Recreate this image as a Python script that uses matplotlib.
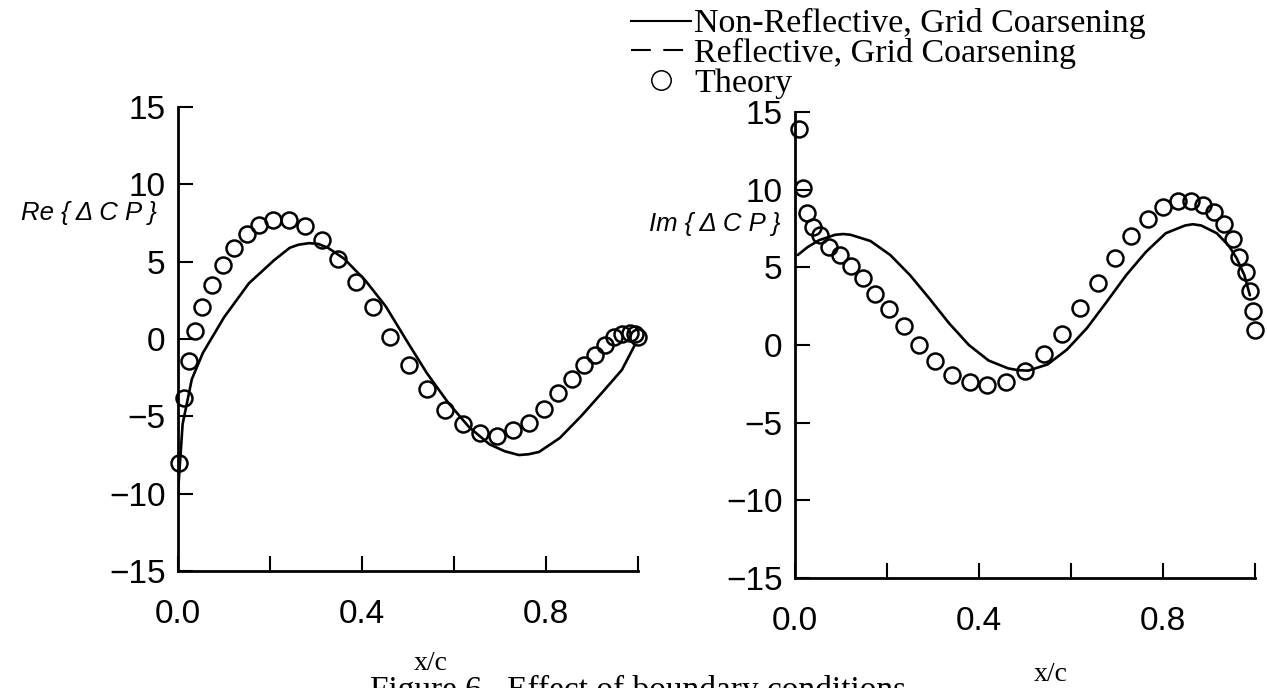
#!/usr/bin/env python3
"""
Re/Im of delta Cp along the chord, computed vs theory
"""

import matplotlib
matplotlib.use('Agg')
import matplotlib.pyplot as plt
from matplotlib.lines import Line2D

OUT_PATH = 'out.png'
SERIF = 'Liberation Serif'
SANS = 'Liberation Sans'

# real part, non-reflective grid coarsening (solid line)
re_line_x = [0.0, 0.010, 0.030, 0.054, 0.100, 0.154, 0.209, 0.243, 0.262, 0.285,
             0.305, 0.326, 0.361, 0.407, 0.452, 0.497, 0.541, 0.587, 0.633, 0.677,
             0.710, 0.741, 0.762, 0.785, 0.830, 0.876, 0.921, 0.965, 0.993]
re_line_y = [-9.9, -5.5, -2.6, -0.9, 1.4, 3.6, 5.1, 5.9, 6.1, 6.2,
             6.15, 5.9, 5.2, 3.8, 2.1, -0.1, -2.2, -4.1, -5.7, -6.8,
             -7.25, -7.5, -7.45, -7.3, -6.4, -5.0, -3.5, -2.0, -0.4]

# real part, theory (circles)
re_theory_x = [0.002, 0.013, 0.024, 0.037, 0.053, 0.074, 0.098, 0.121, 0.150, 0.176,
               0.207, 0.241, 0.276, 0.312, 0.348, 0.386, 0.424, 0.461, 0.502, 0.541,
               0.580, 0.619, 0.657, 0.693, 0.728, 0.763, 0.795, 0.826, 0.856, 0.883,
               0.906, 0.928, 0.948, 0.965, 0.983, 0.993, 1.000]
re_theory_y = [-8.0, -3.8, -1.4, 0.5, 2.1, 3.5, 4.8, 5.9, 6.8, 7.4,
               7.7, 7.7, 7.3, 6.4, 5.2, 3.7, 2.1, 0.1, -1.7, -3.2,
               -4.6, -5.5, -6.1, -6.3, -5.9, -5.4, -4.5, -3.5, -2.6, -1.7,
               -1.0, -0.4, 0.1, 0.3, 0.4, 0.3, 0.1]

# imaginary part, non-reflective grid coarsening (solid line)
im_line_x = [0.006, 0.027, 0.052, 0.087, 0.105, 0.121, 0.164, 0.207, 0.250, 0.292,
             0.335, 0.378, 0.421, 0.463, 0.485, 0.507, 0.549, 0.591, 0.635, 0.678,
             0.720, 0.763, 0.806, 0.848, 0.865, 0.883, 0.917, 0.943, 0.960, 0.977,
             0.989]
im_line_y = [5.8, 6.3, 6.75, 7.1, 7.15, 7.1, 6.7, 5.8, 4.5, 3.0,
             1.4, 0.0, -1.0, -1.5, -1.62, -1.65, -1.25, -0.3, 1.1, 2.8,
             4.5, 6.0, 7.2, 7.7, 7.78, 7.7, 7.2, 6.4, 5.6, 4.5,
             3.2]

# imaginary part, theory (circles)
im_theory_x = [0.008, 0.017, 0.027, 0.038, 0.054, 0.074, 0.097, 0.121, 0.147, 0.174,
               0.204, 0.237, 0.270, 0.304, 0.341, 0.380, 0.417, 0.459, 0.500, 0.541,
               0.581, 0.620, 0.658, 0.695, 0.731, 0.767, 0.800, 0.832, 0.861, 0.887,
               0.911, 0.933, 0.952, 0.965, 0.980, 0.989, 0.996, 0.999]
im_theory_y = [13.9, 10.1, 8.5, 7.6, 7.1, 6.3, 5.8, 5.1, 4.3, 3.3,
               2.3, 1.2, 0.0, -1.0, -1.9, -2.4, -2.6, -2.4, -1.7, -0.6,
               0.7, 2.4, 4.0, 5.6, 7.0, 8.1, 8.9, 9.3, 9.3, 9.0,
               8.6, 7.8, 6.8, 5.7, 4.7, 3.5, 2.2, 1.0]

x_ticks = [0.0, 0.2, 0.4, 0.6, 0.8, 1.0]
x_tick_labels = ['0.0', '', '0.4', '', '0.8', '']
y_ticks = [-15, -10, -5, 0, 5, 10, 15]

legend_labels = ['Non-Reflective, Grid Coarsening',
                 'Reflective, Grid Coarsening',
                 'Theory']


def main():
    fig = plt.figure(figsize=(12.67, 6.88), dpi=100)

    ax_re = fig.add_axes([0.1405, 0.170, 0.363, 0.6744])
    ax_im = fig.add_axes([0.6275, 0.160, 0.363, 0.677])

    draw_panel(ax_re, re_line_x, re_line_y, re_theory_x, re_theory_y,
               'Re { Δ C P }', (-0.045, 0.772), (0.55, -0.172))
    draw_panel(ax_im, im_line_x, im_line_y, im_theory_x, im_theory_y,
               'Im { Δ C P }', (-0.032, 0.76), (0.555, -0.18))

    add_legend(fig)

    # caption got cut off at the bottom of the scan
    fig.text(370 / 1267, 1 - 675 / 688, 'Figure 6.  Effect of boundary conditions',
             family=SERIF, fontsize=24, ha='left', va='top')

    fig.savefig(OUT_PATH, dpi=100)


def draw_panel(ax, line_x, line_y, theory_x, theory_y, ylabel, ylabel_pos, xlabel_pos):
    ax.plot(line_x, line_y, color='black', lw=1.9,
            solid_capstyle='round', solid_joinstyle='round')
    ax.plot(theory_x, theory_y, linestyle='none', marker='o', ms=11.5,
            mfc='none', mec='black', mew=1.8, clip_on=False)

    ax.set_xlim(0, 1)
    ax.set_ylim(-15, 15)

    for side in ['top', 'right']:
        ax.spines[side].set_visible(False)
    for side in ['left', 'bottom']:
        ax.spines[side].set_linewidth(2.0)

    ax.set_xticks(x_ticks, labels=x_tick_labels)
    ax.set_yticks(y_ticks)
    ax.tick_params(direction='in', length=11, width=1.5, labelsize=24, pad=9)
    ax.tick_params(axis='x', pad=20)
    for lbl in ax.get_xticklabels() + ax.get_yticklabels():
        lbl.set_family(SANS)

    ax.set_ylabel(ylabel, rotation=0, ha='right', va='center',
                  family=SANS, style='italic', fontsize=18.5)
    ax.yaxis.set_label_coords(*ylabel_pos)

    ax.set_xlabel('x/c', family=SERIF, fontsize=20)
    ax.xaxis.set_label_coords(*xlabel_pos)


def add_legend(fig):
    handles = [
        Line2D([], [], color='black', lw=1.5),
        Line2D([], [], color='black', lw=1.5, dashes=(9.5, 6)),
        Line2D([], [], linestyle='none', marker='o', ms=14,
               mfc='none', mec='black', mew=1.1),
    ]
    fig.legend(handles, legend_labels, loc='upper left',
               bbox_to_anchor=(628 / 1267, 1 - 5 / 688), frameon=False,
               prop={'family': SERIF, 'size': 24.5},
               handlelength=1.75, handletextpad=0.1,
               labelspacing=-0.04, borderpad=0.1, borderaxespad=0)


if __name__ == '__main__':
    main()
